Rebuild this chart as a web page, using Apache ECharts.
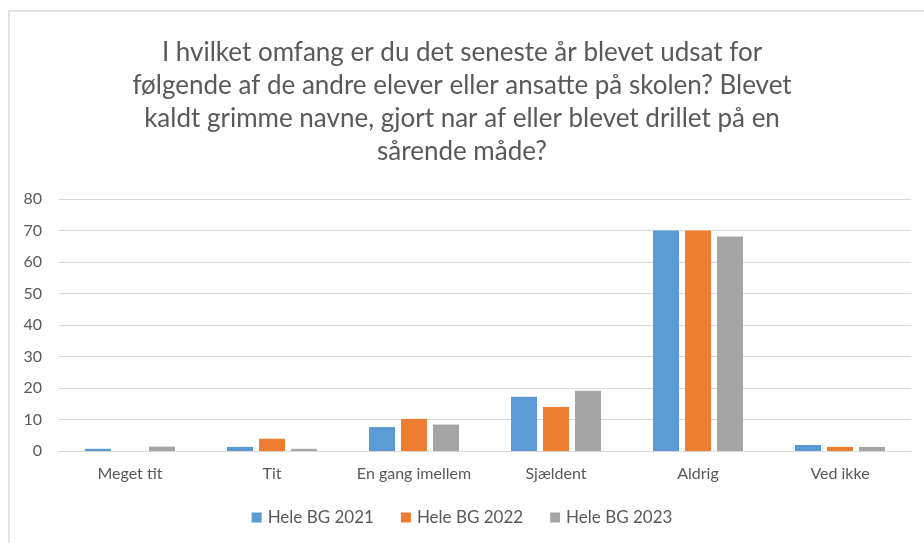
<!DOCTYPE html>
<html>
<head>
<meta charset="utf-8">
<script src="https://cdn.jsdelivr.net/npm/echarts@6/dist/echarts.min.js"></script>
<style>
  html, body { margin: 0; padding: 0; background: #ffffff; }
  #chart { width: 924px; height: 543px; }
</style>
</head>
<body>
<div id="chart"></div>
<script>
// Answer categories along the x axis
const categories = ['Meget tit', 'Tit', 'En gang imellem', 'Sjældent', 'Aldrig', 'Ved ikke'];

// Share of pupils (%) per survey year
const bg2021 = [0.7, 1.3, 7.6, 17.2, 70.0, 1.9];
const bg2022 = [0.0, 3.9, 10.2, 14.0, 70.0, 1.3];
const bg2023 = [1.4, 0.7, 8.4, 19.1, 68.1, 1.3];

const seriesNames = ['Hele BG 2021', 'Hele BG 2022', 'Hele BG 2023'];
const yTicks = [0, 10, 20, 30, 40, 50, 60, 70, 80];

const titleLines = [
  'I hvilket omfang er du det seneste år blevet udsat for',
  'følgende af de andre elever eller ansatte på skolen? Blevet',
  'kaldt grimme navne, gjort nar af eller blevet drillet på en',
  'sårende måde?'
];

const colors = ['#5B9BD5', '#ED7D31', '#A5A5A5'];
const textColor = '#595959';
const fontFamily = 'Lato, "Open Sans", sans-serif';

const chart = echarts.init(document.getElementById('chart'), null, { renderer: 'canvas' });

const makeSeries = (name, data, color) => ({
  name: name,
  type: 'bar',
  data: data,
  barWidth: 26,
  barGap: '23%',
  itemStyle: { color: color },
  emphasis: { disabled: true }
});

chart.setOption({
  animation: false,
  backgroundColor: '#ffffff',
  graphic: [{
    type: 'polyline',
    shape: { points: [[9, 543], [9, 11], [924, 11]] },
    style: { stroke: '#e3e3e3', lineWidth: 2, fill: null },
    silent: true
  }],
  title: {
    text: titleLines.join('\n'),
    left: 'center',
    top: 31,
    textStyle: {
      color: textColor,
      fontFamily: fontFamily,
      fontSize: 26,
      fontWeight: 'normal',
      lineHeight: 33
    }
  },
  legend: {
    data: seriesNames,
    bottom: 12,
    left: 'center',
    itemWidth: 10,
    itemHeight: 10,
    itemGap: 27,
    icon: 'rect',
    textStyle: { color: textColor, fontFamily: fontFamily, fontSize: 17, padding: [0, 0, 0, 1] }
  },
  grid: {
    left: 59,
    right: 13,
    top: 199,
    bottom: 92,
    containLabel: false
  },
  xAxis: {
    type: 'category',
    data: categories,
    axisLine: { lineStyle: { color: '#d9d9d9', width: 1 } },
    axisTick: { show: false },
    axisLabel: { color: textColor, fontFamily: fontFamily, fontSize: 16, margin: 15, interval: 0 }
  },
  yAxis: {
    type: 'value',
    min: yTicks[0],
    max: yTicks[yTicks.length - 1],
    interval: 10,
    axisLine: { show: false },
    axisTick: { show: false },
    splitLine: { lineStyle: { color: '#d9d9d9', width: 1 } },
    axisLabel: { color: textColor, fontFamily: fontFamily, fontSize: 16, margin: 17 }
  },
  series: [
    makeSeries(seriesNames[0], bg2021, colors[0]),
    makeSeries(seriesNames[1], bg2022, colors[1]),
    makeSeries(seriesNames[2], bg2023, colors[2])
  ]
});
</script>
</body>
</html>
